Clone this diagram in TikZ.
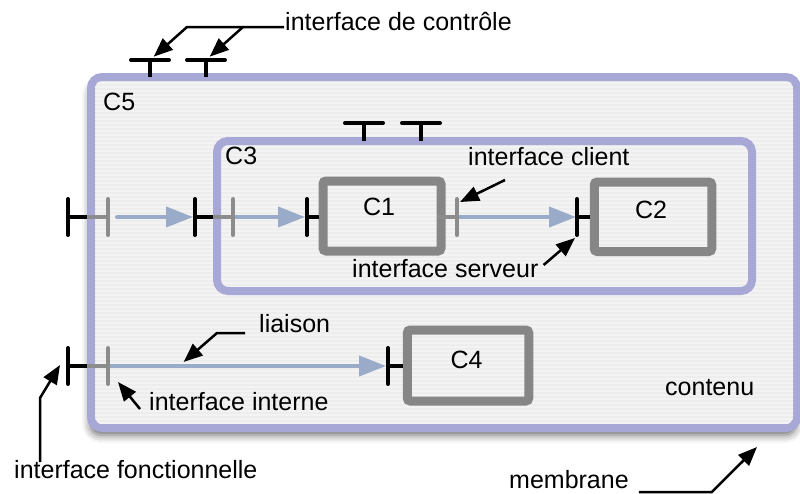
\documentclass[tikz,border=0pt]{standalone}
\usepackage{fontspec}
\setmainfont{Liberation Sans}
\usetikzlibrary{arrows.meta,shadows.blur}
\definecolor{membr}{HTML}{A8A8D6}
\definecolor{boxgray}{HTML}{868686}
\definecolor{ifgray}{HTML}{8C8C8C}
\definecolor{linkblue}{HTML}{9AABC9}
\definecolor{bgfill}{HTML}{EDEDED}
\definecolor{stripe}{HTML}{F3F3F3}
\begin{document}
\begin{tikzpicture}[x=1pt,y=-1pt,
  every node/.style={inner sep=0pt, font=\fontsize{25}{30}\selectfont},
  membranebox/.style={draw=membr, line width=8pt, rounded corners=11pt, inner sep=0pt, outer sep=0pt},
  compbox/.style={draw=boxgray, line width=9pt, rounded corners=3pt, inner sep=0pt, outer sep=0pt},
  extbar/.style={black, line width=4pt, line cap=round},
  extstem/.style={black, line width=4pt},
  intbar/.style={ifgray, line width=4pt, line cap=round},
  intstem/.style={ifgray, line width=4pt},
  link/.style={linkblue, line width=4pt, line cap=round, -{Triangle[length=27pt,width=20pt]}},
  annot/.style={black, line width=2.5pt, -{Triangle[length=19pt,width=15pt]}},
]
\useasboundingbox (0,0) rectangle (800,493);

% outer component C5: membrane, shadow and striped content
\node[membranebox, fill=bgfill,
      blur shadow={shadow xshift=-1pt, shadow yshift=-7pt, shadow blur radius=8pt, shadow opacity=60},
      minimum width=706pt, minimum height=351pt] (c5) at (444,252.5) {};
\begin{scope}
  \clip[rounded corners=7pt] ([shift={(4,-4)}]c5.south west) rectangle ([shift={(-4,4)}]c5.north east);
  \foreach \k in {0,...,90} \fill[stripe] (90,{78+4*\k}) rectangle (800,{80+4*\k});
\end{scope}
\node[anchor=base west] (c5n) at (103,110) {C5};

% composite C3 and primitive components
\node[membranebox, minimum width=535pt, minimum height=150pt] (c3) at (484.5,216) {};
\node[anchor=base west] (c3n) at (225,164) {C3};
\node[compbox, minimum width=118pt, minimum height=70pt] (c1) at (382,216) {};
\node (c1n) at (379,207) {C1};
\node[compbox, minimum width=117.5pt, minimum height=69.5pt] (c2) at (653,216.75) {};
\node (c2n) at (651,209.5) {C2};
\node[compbox, minimum width=121.5pt, minimum height=71pt] (c4) at (468,365.5) {};
\node (c4n) at (466.5,359.5) {C4};

% interface positions
\coordinate (f5a) at (68,217);
\coordinate (i5a) at (108,217);
\coordinate (f3a) at (195,217);
\coordinate (i3a) at (233,217);
\coordinate (f1) at (307,217);
\coordinate (s1) at (457,217);
\coordinate (f2) at (577,217);
\coordinate (f5b) at (68,366);
\coordinate (i5b) at (108,366);
\coordinate (f4) at (388,366);
\coordinate (k1) at (150,60);
\coordinate (k2) at (206,60);
\coordinate (k3) at (364,123);
\coordinate (k4) at (421,123);

% bindings
\draw[link, shorten <=9pt, shorten >=2pt] (i5a) -- (f3a);
\draw[link, shorten >=2pt] (i3a) -- (f1);
\draw[link, shorten >=1pt] (s1) -- (f2);
\draw[link, shorten >=2pt] (i5b) -- coordinate[pos=0.27] (lkp) (f4);

% stems
\draw[intstem, shorten <=-4pt] (f5a -| c5.west) -- (i5a);
\draw[extstem, shorten >=4pt] (f5a) -- (f5a -| c5.west);
\draw[intstem, shorten <=-4pt] (f3a -| c3.west) -- (i3a);
\draw[extstem, shorten >=4pt] (f3a) -- (f3a -| c3.west);
\draw[extstem, shorten >=4pt] (f1) -- (f1 -| c1.west);
\draw[intstem, shorten <=-4pt] (s1 -| c1.east) -- (s1);
\draw[extstem, shorten >=4pt] (f2) -- (f2 -| c2.west);
\draw[intstem, shorten <=-4pt] (f5b -| c5.west) -- (i5b);
\draw[extstem, shorten >=4pt] (f5b) -- (f5b -| c5.west);
\draw[extstem, shorten >=4pt] (f4) -- (f4 -| c4.west);
\draw[extstem] (k1) -- (k1 |- c5.north);
\draw[extstem] (k2) -- (k2 |- c5.north);
\draw[extstem] (k3) -- (k3 |- c3.north);
\draw[extstem] (k4) -- (k4 |- c3.north);

% interface bars
\foreach \p in {f5a,f3a,f1,f2,f5b,f4} \draw[extbar] (\p) ++(0,-18) -- ++(0,36);
\foreach \p in {i5a,i3a,s1,i5b} \draw[intbar] (\p) ++(0,-18) -- ++(0,36);
\foreach \p in {k1,k2,k3,k4} \draw[extbar] (\p) ++(-19,0) -- ++(38,0);

% annotations
\node[anchor=base west] (tctrl) at (285,30) {interface de contrôle};
\node[anchor=base west] (tcli) at (468,165) {interface client};
\node[anchor=base west] (tsrv) at (352,277) {interface serveur};
\node[anchor=base west] (tlia) at (259,332) {liaison};
\node[anchor=base west] (tint) at (149,410) {interface interne};
\node[anchor=base west] (tfon) at (14,478) {interface fonctionnelle};
\node[anchor=base west] (tcont) at (665,395) {contenu};
\node[anchor=base west] (tmem) at (509,488) {membrane};

\coordinate (jc) at (243,27);
\coordinate (jc0) at (187,27);
\draw[annot, shorten >=5pt] ([shift={(-1,-3)}]tctrl.base west) -- (jc) -- (jc0) -- (k1);
\draw[annot, shorten >=5pt] (jc) -- (k2);
\draw[annot] ([shift={(37,15)}]tcli.base west) -- ([shift={(3,-15)}]s1);
\draw[annot] ([shift={(5,-12)}]tsrv.base east) -- ([shift={(-2,21)}]f2);
\draw[annot] ([shift={(-14,1)}]tlia.base west) -- ++(-28,0) -- ([shift={(0,-4)}]lkp);
\draw[annot] ([shift={(-9,-1)}]tint.base west) -- ([shift={(10,16)}]i5b);
\draw[annot] ([shift={(26,-16)}]tfon.base west) -- ++(0,-64) -- ([shift={(-8,-1)}]f5b);
\draw[annot] ([shift={(10,4)}]tmem.base east) -- ++(73,0) -- ([shift={(-40,19)}]c5.south east);
\end{tikzpicture}
\end{document}
